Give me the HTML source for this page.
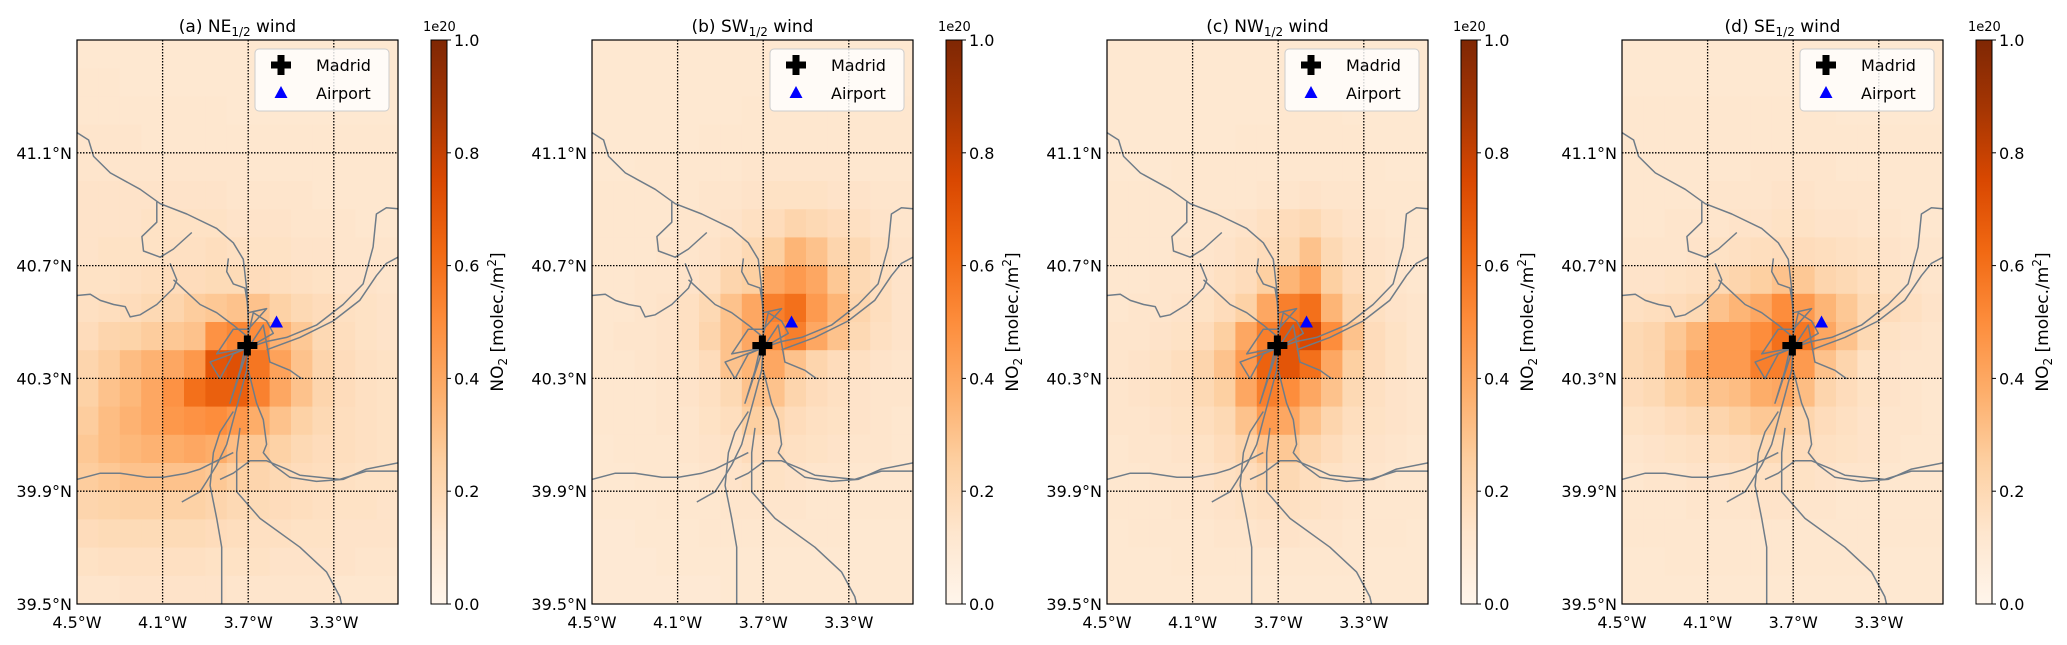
<!DOCTYPE html>
<html><head><meta charset="utf-8"><style>
body{margin:0;background:#fff;}
svg{display:block;font-family:"DejaVu Sans","Liberation Sans",sans-serif;}
</style></head><body>
<svg id="fig" width="2067" height="645" viewBox="0 0 2067 645" xmlns="http://www.w3.org/2000/svg"></svg>
<script>
const panelLetters=['(a) NE','(b) SW','(c) NW','(d) SE'];
const latTicks=[41.1,40.7,40.3,39.9,39.5];
const lonTicks=[-4.5,-4.1,-3.7,-3.3];
const cbTicks=[0.0,0.2,0.4,0.6,0.8,1.0];
const madrid=[-3.7039,40.4168];
const airport=[-3.5676,40.4983];
const gridA=[
[11,11,11,11,11,11,11,11,11,11,11,11,11,11,11],
[12,12,11,11,11,11,11,11,11,11,11,11,11,11,11],
[12,12,12,12,12,12,12,11,11,11,11,11,11,11,11],
[13,13,13,12,12,12,12,12,12,12,12,12,12,12,12],
[13,13,13,13,13,13,13,13,12,12,12,12,12,12,12],
[14,14,14,14,14,14,14,13,13,13,13,12,12,12,12],
[14,14,14,15,15,15,15,14,14,14,13,13,13,12,12],
[14,15,15,15,16,16,17,16,15,15,14,14,13,13,13],
[15,15,16,17,18,18,19,19,18,17,16,15,14,14,13],
[16,17,18,20,22,26,28,30,30,24,20,18,16,15,14],
[18,22,23,26,28,30,48,52,50,36,28,20,17,15,14],
[22,26,32,36,40,46,70,72,58,42,30,22,18,16,15],
[24,30,34,40,48,60,66,66,54,40,30,22,18,16,15],
[26,32,36,40,46,48,50,46,38,30,24,20,17,16,15],
[28,32,34,36,38,40,38,32,28,24,20,18,17,16,15],
[26,28,30,30,30,30,28,25,22,20,18,17,16,15,15],
[22,23,24,24,24,24,22,20,19,18,17,16,15,15,14],
[18,19,19,19,19,19,18,17,16,16,15,15,14,14,14],
[15,16,16,16,16,16,15,15,15,14,14,14,14,13,13],
[13,13,14,14,14,14,14,13,13,13,13,13,12,12,12]];
const gridB=[
[11,11,11,11,11,11,11,11,11,11,11,11,11,11,11],
[11,11,11,11,11,11,11,11,11,11,11,11,11,11,11],
[11,11,11,11,11,11,11,12,12,12,12,12,12,12,12],
[11,11,11,11,11,12,12,12,12,12,12,12,12,12,12],
[11,11,12,12,12,12,12,13,13,13,13,13,12,12,12],
[12,12,12,12,12,13,13,14,15,15,15,14,14,13,13],
[12,12,12,12,13,13,14,16,18,22,20,18,16,14,13],
[12,12,12,13,13,14,16,20,25,35,30,22,20,16,14],
[12,12,13,13,14,16,22,25,40,45,40,28,20,17,14],
[12,12,13,14,16,20,30,40,55,60,45,35,22,17,14],
[12,13,13,14,16,22,30,40,50,55,40,30,20,16,14],
[12,12,13,14,15,18,30,35,40,30,22,18,16,14,13],
[12,12,12,13,14,16,20,30,30,22,18,16,14,13,13],
[12,12,12,13,13,15,17,25,22,18,16,15,14,13,12],
[11,12,12,12,13,14,15,18,18,16,15,14,13,13,12],
[11,11,12,12,12,13,14,15,15,14,13,13,12,12,12],
[11,11,11,12,12,12,13,13,13,13,12,12,12,12,12],
[10,10,11,11,11,12,12,12,12,12,12,12,11,11,11],
[10,10,10,11,11,11,11,11,11,11,11,11,11,11,11],
[10,10,10,10,10,10,11,11,11,11,11,11,11,11,11]];
const gridC=[
[11,11,11,11,11,11,11,11,11,11,11,11,11,11,11],
[11,11,11,11,11,11,11,11,11,11,11,11,11,11,11],
[11,11,11,11,11,11,11,11,12,12,12,11,11,11,11],
[11,11,11,11,11,11,12,12,12,12,12,12,11,11,11],
[11,11,11,12,12,12,12,12,12,12,12,12,12,11,11],
[12,12,12,12,12,12,12,13,13,14,13,13,12,12,12],
[12,12,12,12,13,13,14,16,18,20,16,14,13,12,12],
[12,12,12,13,13,14,16,18,20,30,20,16,14,13,12],
[12,12,13,13,14,16,18,25,35,42,25,18,15,13,12],
[12,13,13,14,15,18,24,40,55,60,35,22,16,14,13],
[13,13,14,15,18,25,40,55,70,75,50,30,18,15,13],
[13,14,15,17,22,30,45,65,70,60,40,25,18,15,13],
[13,14,15,16,20,25,40,55,50,40,30,20,16,14,13],
[13,13,14,15,17,20,30,45,40,30,22,17,15,14,13],
[12,13,13,14,15,18,22,30,28,22,18,15,14,13,12],
[12,12,13,13,14,16,18,22,20,17,15,14,13,12,12],
[12,12,12,13,13,14,15,16,16,15,14,13,12,12,12],
[11,12,12,12,12,13,13,14,14,13,13,12,12,12,11],
[11,11,11,12,12,12,12,12,12,12,12,12,11,11,11],
[11,11,11,11,11,11,11,11,11,11,11,11,11,11,11]];
const gridD=[
[11,11,11,11,11,11,11,11,11,11,11,11,11,11,11],
[11,11,11,11,11,11,11,11,11,11,11,11,11,11,11],
[12,12,12,12,12,12,12,12,12,12,11,11,11,11,11],
[12,12,12,12,12,12,12,12,12,12,12,12,12,12,12],
[12,12,12,12,12,12,13,13,13,13,12,12,12,12,12],
[12,12,12,12,13,13,13,14,14,13,13,13,12,12,12],
[12,12,13,13,13,14,14,15,15,14,14,13,13,12,12],
[13,13,13,14,15,16,17,18,18,17,16,15,14,13,13],
[14,14,15,16,20,22,25,30,28,22,20,17,15,14,13],
[16,17,18,20,30,35,40,50,45,35,28,20,18,16,14],
[20,22,28,35,45,45,50,60,58,40,30,20,15,14,13],
[20,22,30,40,45,45,55,55,45,30,22,15,14,13,13],
[18,20,25,28,30,32,38,40,32,22,18,15,14,13,12],
[15,16,18,20,22,25,28,28,22,18,16,14,13,13,12],
[13,14,15,16,17,18,20,20,18,16,15,14,13,12,12],
[12,13,13,14,14,15,16,16,15,14,13,13,12,12,12],
[12,12,12,13,13,13,14,14,13,13,12,12,12,12,12],
[12,12,12,12,12,12,12,12,12,12,12,12,12,12,12],
[11,11,12,12,12,12,12,12,12,12,12,12,11,11,11],
[11,11,11,11,11,11,11,11,11,11,11,11,11,11,11]];
const grids=[gridA,gridB,gridC,gridD];

// roads as zoom-frame coordinates (axes-relative geography)
const roads=[
[[230,322],[265,340],[280,380],[330,420],[420,460],[480,495],[560,520],[650,555],[700,590],[730,630],[740,700],[745,780],[745,845]],
[[470,490],[470,540],[425,575],[430,610],[480,625],[520,605],[575,565]],
[[230,718],[270,715],[300,730],[340,740],[375,745],[390,770],[420,765],[470,740],[520,700],[530,680],[510,640]],
[[520,680],[560,710],[600,740],[650,760],[700,790],[745,820]],
[[745,845],[800,830],[860,820],[950,790],[1030,740],[1090,690],[1120,600],[1130,520],[1160,505],[1195,507]],
[[800,850],[900,820],[1000,780],[1080,730],[1130,670],[1160,640],[1195,625]],
[[685,628],[680,660],[700,690],[735,700],[745,750]],
[[745,845],[740,900],[720,960],[700,1020],[680,1080],[650,1130],[620,1170],[600,1195],[545,1220]],
[[745,900],[770,980],[790,1020],[800,1080],[790,1100],[820,1130],[870,1160],[950,1170],[1030,1165],[1100,1140],[1195,1125]],
[[700,1000],[660,1050],[640,1100],[630,1180],[650,1260],[665,1330],[665,1468]],
[[720,1040],[710,1100],[710,1195],[780,1260],[900,1330],[980,1390],[1020,1450],[1025,1468]],
[[230,1165],[300,1150],[360,1150],[440,1160],[490,1160],[560,1150],[600,1140],[650,1120],[700,1100]],
[[1195,1145],[1100,1145],[1020,1165],[900,1155],[860,1140],[800,1120],[750,1120],[700,1150],[660,1165]],
[[745,845],[630,880],[660,920],[700,860],[745,845],[790,790],[810,880],[870,900],[905,920]],
[[745,845],[690,980],[720,900],[760,760],[800,780],[820,810],[745,845]],
[[745,760],[800,750],[745,800],[700,800],[650,860],[745,845]]
];

const NS='http://www.w3.org/2000/svg';
const svg=document.getElementById('fig');
function el(tag,attrs,parent){const e=document.createElementNS(NS,tag);for(const k in attrs)e.setAttribute(k,attrs[k]);(parent||svg).appendChild(e);return e;}
const stops=['#fff5eb','#fee6ce','#fdd0a2','#fdae6b','#fd8d3c','#f16913','#d94801','#a63603','#7f2704'];
function hex(h){return [1,3,5].map(i=>parseInt(h.substr(i,2),16));}
function cmap(v){v=Math.max(0,Math.min(1,v));const p=v*8;const i=Math.min(7,Math.floor(p));const t=p-i;const a=hex(stops[i]),b=hex(stops[i+1]);return 'rgb('+a.map((x,k)=>Math.round(x+(b[k]-x)*t)).join(',')+')';}

const axTop=40,axBot=604,axW=321,panelLeft=[77,592,1107,1622];
const lonMin=-4.5,lonMax=-3.0,latMin=39.5,latMax=41.5;
const defs=el('defs',{});
const grad=el('linearGradient',{id:'cbg',x1:0,y1:1,x2:0,y2:0},defs);
for(let i=0;i<=8;i++){el('stop',{offset:(i/8),'stop-color':stops[i]},grad);}

panelLeft.forEach((L,p)=>{
  const xs=lon=>L+(lon-lonMin)/(lonMax-lonMin)*axW;
  const ys=lat=>axTop+(latMax-lat)/(latMax-latMin)*(axBot-axTop);
  const g=el('g',{});
  
  
  const cp=el('clipPath',{id:'clip'+p},defs);
  el('rect',{x:L,y:axTop,width:axW,height:axBot-axTop},cp);
  const hm=el('g',{'clip-path':'url(#clip'+p+')'},g);
  
  
  const grid=grids[p];
  grid.forEach((row,r)=>row.forEach((v,c)=>{
    const lat1=latMax-0.1*r,lat0=lat1-0.1,lon0=lonMin+0.1*c,lon1=lon0+0.1;
    const x0=xs(lon0),x1=xs(lon1),y0=ys(lat1),y1=ys(lat0);
    const rc=el('rect',{x:x0,y:y0,width:x1-x0+0.5,height:y1-y0+0.5,fill:cmap(v/100)},hm);
    
    
  }));
  // roads
  const rg=el('g',{'clip-path':'url(#clip'+p+')',fill:'none',stroke:'#6f7c88','stroke-width':1.5,'stroke-linejoin':'round'},g);
  
  
  roads.forEach(rd=>{
    const pts=rd.map(([zx,zy])=>{const lon=lonMin+(zx-230)/965*(lonMax-lonMin);const lat=latMax-(zy-97)/1371*(latMax-latMin);return xs(lon).toFixed(1)+','+ys(lat).toFixed(1);}).join(' ');
    const pl=el('polyline',{points:pts},rg);
    
    
  });
  // gridlines
  latTicks.forEach(t=>{if(t>latMin){const l=el('line',{x1:L,x2:L+axW,y1:ys(t),y2:ys(t),stroke:'#000','stroke-width':1.3,'stroke-dasharray':'1.5,1.5'},g);
    
    }});
  lonTicks.forEach(t=>{if(t>lonMin){const l=el('line',{x1:xs(t),x2:xs(t),y1:axTop,y2:axBot,stroke:'#000','stroke-width':1.3,'stroke-dasharray':'1.5,1.5'},g);
    
    }});
  const fr=el('rect',{x:L,y:axTop,width:axW,height:axBot-axTop,fill:'none',stroke:'#000','stroke-width':1.2},g);
  
  
  // tick labels
  latTicks.forEach(t=>{const tx=el('text',{x:L-5,y:ys(t)+6,'text-anchor':'end','font-size':16},g);tx.textContent=t.toFixed(1)+'°N';
    
    });
  lonTicks.forEach(t=>{const tx=el('text',{x:xs(t),y:628,'text-anchor':'middle','font-size':16},g);tx.textContent=Math.abs(t).toFixed(1)+'°W';
    
    });
  // title
  const ti=el('text',{x:L+axW/2,y:32,'text-anchor':'middle','font-size':17},g);
  
  
  ti.appendChild(document.createTextNode(panelLetters[p]));
  const sub=el('tspan',{'font-size':12,dy:4},ti);sub.textContent='1/2';
  const rest=el('tspan',{dy:-4},ti);rest.textContent=' wind';
  // markers
  const mx=xs(madrid[0]),my=ys(madrid[1]);
  const cr=el('path',{d:`M${mx-3.5},${my-10}h7v6.5h6.5v7h-6.5v6.5h-7v-6.5h-6.5v-7h6.5z`,fill:'#000'},g);
  
  
  const ax=xs(airport[0]),ay=ys(airport[1]);
  const tr=el('path',{d:`M${ax},${ay-7}L${ax+6.5},${ay+5}L${ax-6.5},${ay+5}Z`,fill:'#0000ff'},g);
  
  
  // legend
  const lg=el('g',{},g);
  
  
  el('rect',{x:L+178,y:49,width:134,height:62,rx:4,fill:'#fff','fill-opacity':0.82,stroke:'#ccc'},lg);
  const lx=L+204;
  el('path',{d:`M${lx-3.5},${65-10}h7v6.5h6.5v7h-6.5v6.5h-7v-6.5h-6.5v-7h6.5z`,fill:'#000'},lg);
  el('path',{d:`M${lx},${93-7}L${lx+6.5},${93+5}L${lx-6.5},${93+5}Z`,fill:'#0000ff'},lg);
  const t1=el('text',{x:L+239,y:71,'font-size':16},lg);t1.textContent='Madrid';
  
  
  const t2=el('text',{x:L+239,y:99,'font-size':16},lg);t2.textContent='Airport';
  
  
  // colorbar
  const cx=L+354,cw=16;
  const cb=el('g',{},g);
  
  
  el('rect',{x:cx,y:axTop,width:cw,height:axBot-axTop,fill:'url(#cbg)',stroke:'#000','stroke-width':1},cb);
  cbTicks.forEach(t=>{const y=axBot-t*(axBot-axTop);el('line',{x1:cx+cw,x2:cx+cw+4,y1:y,y2:y,stroke:'#000'},cb);
    const tx=el('text',{x:cx+cw+7,y:y+6,'font-size':16},cb);tx.textContent=t.toFixed(1);
    
    });
  const e=el('text',{x:cx-8,y:31,'font-size':13},cb);e.textContent='1e20';
  
  
  const lbx=cx+72,lby=(axTop+axBot)/2;
  const lb=el('text',{x:lbx,y:lby,'text-anchor':'middle','font-size':17,transform:`rotate(-90 ${lbx} ${lby})`},cb);
  
  
  lb.appendChild(document.createTextNode('NO'));
  const s2=el('tspan',{'font-size':12,dy:4},lb);s2.textContent='2';
  const s3=el('tspan',{dy:-4},lb);s3.textContent=' [molec./m';
  const s4=el('tspan',{'font-size':12,dy:-7},lb);s4.textContent='2';
  const s5=el('tspan',{dy:7},lb);s5.textContent=']';
});
</script>
</body></html>
